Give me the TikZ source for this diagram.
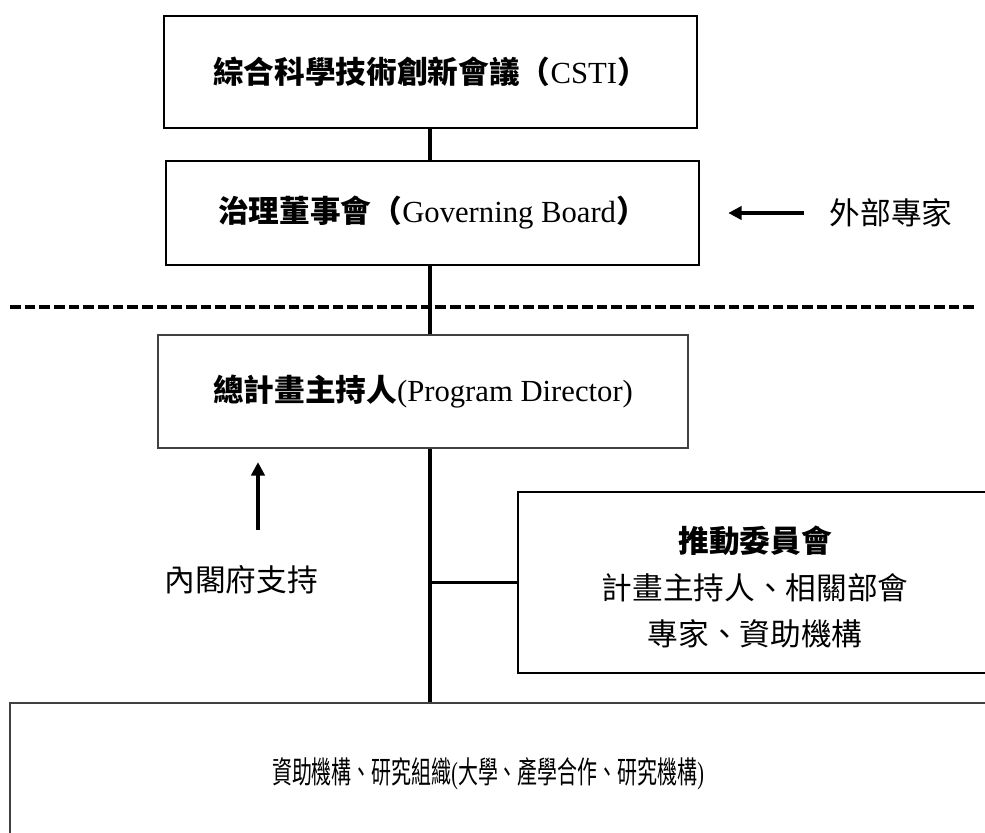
\documentclass[tikz,border=0pt]{standalone}
\usepackage{fontspec}
\usepackage{graphicx}
\setmainfont{Liberation Serif}
\newfontfamily\cjk{Noto Sans CJK TC}
\usetikzlibrary{arrows.meta}
\begin{document}
\begin{tikzpicture}[x=0.75pt,y=-0.75pt,
  every node/.style={font=\fontsize{23}{35}\selectfont, inner sep=0pt},
  thickbox/.style={draw=black, line width=2pt},
  thinbox/.style={draw=black!75, line width=1.3pt},
  conn/.style={line width=2.3pt},
  arr/.style={line width=2.3pt, -{Triangle[length=10pt,width=10pt]}},
  dashline/.style={line width=2.3pt, dash pattern=on 8pt off 3pt}]
\useasboundingbox (0,0) rectangle (985,832);
\clip (0,0) rectangle (985,832);
% boxes
\node[thickbox, minimum width=533*0.75pt, minimum height=112*0.75pt] (csti) at (430.5,72)
  {{\cjk\bfseries 綜合科學技術創新會議（}CSTI{\cjk\bfseries ）}};
\node[thickbox, minimum width=533*0.75pt, minimum height=104*0.75pt] (gov) at (432.5,213)
  {{\cjk\bfseries 治理董事會（}Governing Board{\cjk\bfseries ）}};
\node[thinbox, minimum width=530*0.75pt, minimum height=113*0.75pt] (pd) at (423,391.5)
  {{\cjk\bfseries 總計畫主持人}(Program Director)};
\node[thickbox, minimum width=482*0.75pt, minimum height=181*0.75pt] (comm) at (759,582.5) {};
\node[align=center] (commtxt) at (755,587)
  {{\cjk\bfseries 推動委員會}\\{\cjk 計畫主持人、相關部會}\\{\cjk 專家、資助機構}};
\node[thinbox, minimum width=990*0.75pt, minimum height=147*0.75pt] (base) at (505,776.5) {};
\node (basetxt) at (488,774)
  {\scalebox{0.65}[1]{{\cjk 資助機構、研究組織}({\cjk 大學、產學合作、研究機構})}};
% side labels
\node (ext) at (891,213) {\cjk 外部專家};
\node (cab) at (241,580) {\cjk 內閣府支持};
% spine
\coordinate (sp) at (430,0);
\draw[conn] (sp |- csti.south) -- (sp |- gov.north);
\draw[conn] (sp |- gov.south) -- (sp |- pd.north);
\draw[conn] (sp |- pd.south) -- (sp |- base.north);
\draw[conn] (sp |- comm.west) -- (comm.west);
% dashed divider
\coordinate (dl) at (10,307);
\coordinate (dr) at (975,307);
\draw[dashline] (dl) -- (dr);
% arrows
\draw[arr] ([xshift=-19pt]ext.west) -- ([xshift=21pt]gov.east);
\coordinate (upA) at (258,530);
\draw[arr, shorten >=10pt] (upA) -- (upA |- pd.south);
\end{tikzpicture}
\end{document}
